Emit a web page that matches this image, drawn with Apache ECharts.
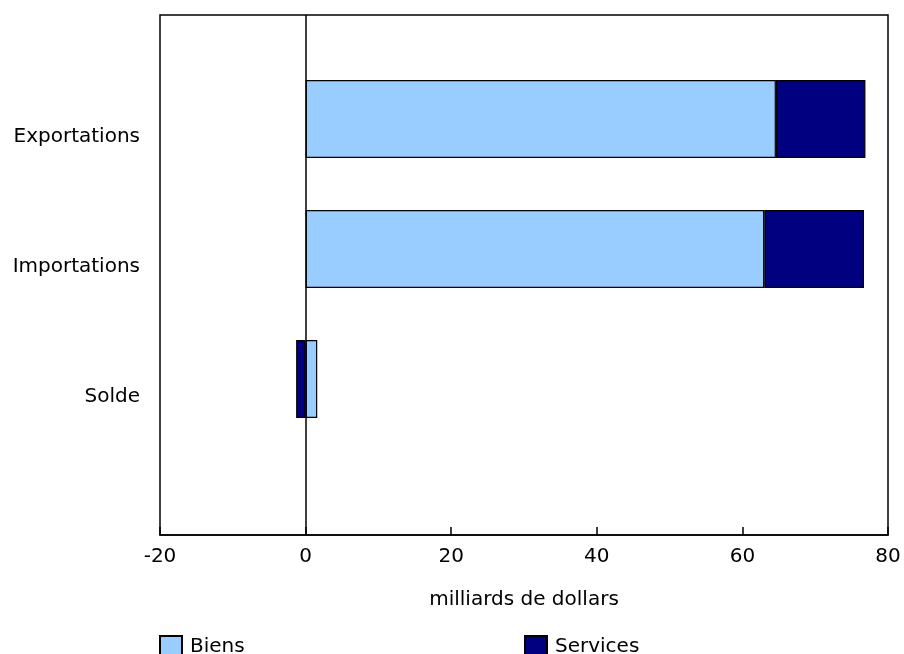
<!DOCTYPE html>
<html>
<head>
<meta charset="utf-8">
<script src="https://cdn.jsdelivr.net/npm/echarts@6/dist/echarts.min.js"></script>
<style>html,body{margin:0;padding:0;background:#fff;}#c{width:904px;height:654px;}</style>
</head>
<body>
<div id="c"></div>
<script>
const categories = ['Solde', 'Importations', 'Exportations'];
const biens = [1.6, 63.0, 64.6];
const services = [-1.3, 13.7, 12.3];
const xTicks = { min: -20, max: 80, interval: 20 };

const chart = echarts.init(document.getElementById('c'));
const font = 'DejaVu Sans, Verdana, sans-serif';
const fs = 20;
chart.setOption({
  animation: false,
  textStyle: { fontFamily: font },
  grid: [
    { left: 160, right: 16, top: 15, bottom: 119, show: true, borderColor: '#000', borderWidth: 1.5 },
    { left: 160, right: 16, top: 54, bottom: 210 },
    { left: 160, right: 16, top: 72, bottom: 192 }
  ],
  legend: [
    { data: ['Biens'], left: 159, top: 635, padding: 0, icon: 'rect', itemWidth: 22, itemHeight: 22, itemGap: 9, textStyle: { fontFamily: font, fontSize: fs, color: '#000', padding: [0, 0, 0, 3] } },
    { data: ['Services'], left: 524, top: 635, padding: 0, icon: 'rect', itemWidth: 22, itemHeight: 22, itemGap: 9, textStyle: { fontFamily: font, fontSize: fs, color: '#000', padding: [0, 0, 0, 3] } }
  ],
  xAxis: [
    {
      gridIndex: 0, type: 'value', min: xTicks.min, max: xTicks.max, interval: xTicks.interval,
      name: 'milliards de dollars', nameLocation: 'middle', nameGap: 55,
      nameTextStyle: { fontFamily: font, fontSize: fs, color: '#000' },
      axisLine: { show: true, lineStyle: { color: '#000', width: 1.5 } },
      axisTick: { show: true, inside: true, length: 8, lineStyle: { color: '#000', width: 1.5 } },
      axisLabel: { fontFamily: font, fontSize: fs, color: '#000', margin: 12 },
      splitLine: { show: false }
    },
    {
      gridIndex: 1, type: 'value', min: xTicks.min, max: xTicks.max, interval: xTicks.interval,
      show: false, splitLine: { show: false }
    },
    {
      gridIndex: 2, type: 'value', min: xTicks.min, max: xTicks.max, interval: xTicks.interval,
      show: false, splitLine: { show: false }
    }
  ],
  yAxis: [
    { gridIndex: 0, type: 'value', min: 0, max: 1, show: false, splitLine: { show: false } },
    { gridIndex: 1, type: 'category', data: categories, show: false },
    {
      gridIndex: 2, type: 'category', data: categories,
      axisLine: { show: false }, axisTick: { show: false }, splitLine: { show: false },
      axisLabel: { fontFamily: font, fontSize: fs, color: '#000', margin: 20 }
    }
  ],
  series: [
    {
      type: 'line', xAxisIndex: 0, yAxisIndex: 0, data: [], silent: true,
      markLine: { silent: true, symbol: 'none', label: { show: false },
        lineStyle: { color: '#000', width: 1.5, type: 'solid' }, data: [{ xAxis: 0 }] }
    },
    {
      name: 'Biens', type: 'bar', stack: 'total', xAxisIndex: 1, yAxisIndex: 1, data: biens, barWidth: '60%',
      itemStyle: { color: '#99CCFF', borderColor: '#000', borderWidth: 1.2 }
    },
    {
      name: 'Services', type: 'bar', stack: 'total', xAxisIndex: 1, yAxisIndex: 1, data: services, barWidth: '60%',
      itemStyle: { color: '#000080', borderColor: '#000', borderWidth: 1.2 }
    }
  ]
});
</script>
</body>
</html>
